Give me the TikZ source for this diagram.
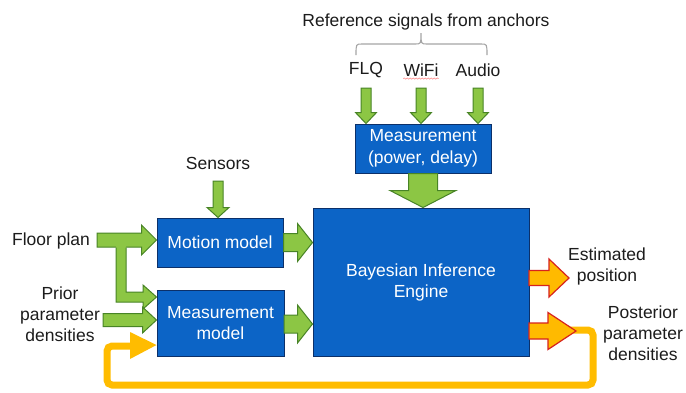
\documentclass[tikz,border=0pt]{standalone}
\usepackage{fontspec}
\setmainfont{Liberation Sans}
\usetikzlibrary{calc,decorations.pathmorphing}

\definecolor{boxblue}{RGB}{12,100,198}
\definecolor{boxedge}{RGB}{12,48,105}
\definecolor{arrgreen}{RGB}{140,198,68}
\definecolor{arredge}{RGB}{72,132,38}
\definecolor{outfill}{RGB}{255,186,0}
\definecolor{outedge}{RGB}{215,35,30}
\definecolor{loopyellow}{RGB}{255,188,0}
\definecolor{bracegray}{RGB}{165,165,165}
\definecolor{txt}{RGB}{28,28,28}

% Block arrow from #2 to #3: style #1, shaft half-width #4,
% head half-width #5, head length #6
\newcommand\blockarrow[6]{%
  \path (#2) coordinate (ba-s) (#3) coordinate (ba-e);
  \path ($(ba-e)!#6!(ba-s)$) coordinate (ba-h);
  \draw[#1] ($(ba-s)!#4!90:(ba-e)$)
    -- ($(ba-h)!#4!-90:(ba-s)$)
    -- ($(ba-h)!#5!-90:(ba-s)$)
    -- (ba-e)
    -- ($(ba-h)!#5!90:(ba-s)$)
    -- ($(ba-h)!#4!90:(ba-s)$)
    -- ($(ba-s)!#4!-90:(ba-e)$) -- cycle;
}

\tikzset{
  lbl/.style={text=txt, inner sep=0pt, align=center,
    font=\fontsize{17.5}{21}\selectfont},
  bluebox/.style={draw=boxedge, fill=boxblue, line width=1pt,
    text=white, align=center, inner sep=0pt,
    font=\fontsize{17.5}{21}\selectfont},
  garrow/.style={fill=arrgreen, draw=arredge, line width=1pt, line join=miter},
  oarrow/.style={fill=outfill, draw=outedge, line width=1.2pt, line join=miter},
  loopline/.style={draw=loopyellow, line width=7pt, rounded corners=5pt},
}

\begin{document}
\begin{tikzpicture}[x=1pt, y=-1pt]
\useasboundingbox (0,0) rectangle (686,392);
\fill[white] (0,0) rectangle (686,392);

% processing blocks
\node[bluebox, minimum width=126pt, minimum height=49pt] (motion) at (220,242.5) {Motion model};
\node[bluebox, minimum width=127pt, minimum height=66pt] (measm) at (220.5,323) {Measurement\\model};
\node[bluebox, minimum width=216pt, minimum height=148pt] (bayes) at (421,282) {Bayesian Inference\\Engine};
\node[bluebox, minimum width=136pt, minimum height=49pt, font=\fontsize{17.5}{22}\selectfont] (meas) at (423,148.5) {Measurement\\(power, delay)};

% labels
\node[lbl] (refsig) at (426,22) {Reference signals from anchors};
\node[lbl] (flq) at (366,70) {FLQ};
\node[lbl] (wifi) at (421,70) {WiFi};
\node[lbl] (audio) at (478,70) {Audio};
\node[lbl] (sensors) at (218,163) {Sensors};
\node[lbl] (floor) at (51,241) {Floor plan};
\node[lbl] (prior) at (60,314) {Prior\\parameter\\densities};
\node[lbl] (estim) at (607,266) {Estimated\\position};
\node[lbl] (post) at (643,333) {Posterior\\parameter\\densities};

% spell-check squiggle under WiFi
\draw[red!45, line width=0.6pt, decorate,
  decoration={snake, amplitude=0.6pt, segment length=3pt}]
  ($(wifi.south west)+(0,2)$) -- ($(wifi.south east)+(0,2)$);

% brace grouping the anchor signals
\coordinate (br-l) at (356,55);
\coordinate (br-r) at (487,55);
\coordinate (br-m) at (421,33);
\draw[bracegray, line width=1.1pt]
  (br-l) .. controls (356,44) .. (362,44) -- (415,44)
  .. controls (421,44) .. (br-m)
  .. controls (421,44) .. (427,44) -- (481,44)
  .. controls (487,44) .. (br-r);

% anchor signals into the measurement block
\coordinate (flq-in) at (366,88);
\coordinate (wifi-in) at (421,88);
\coordinate (audio-in) at (478,88);
\blockarrow{garrow}{flq-in}{meas.north -| flq-in}{5pt}{10.5pt}{11pt}
\blockarrow{garrow}{wifi-in}{meas.north -| wifi-in}{5pt}{10.5pt}{11pt}
\blockarrow{garrow}{audio-in}{meas.north -| audio-in}{5pt}{10.5pt}{11pt}

% measurement into the inference engine
\blockarrow{garrow}{meas.south}{bayes.north -| meas.south}{14.5pt}{33pt}{17pt}

% sensors into the motion model
\coordinate (sens-in) at (218,181);
\blockarrow{garrow}{sens-in}{motion.north -| sens-in}{5pt}{11pt}{10pt}

% models into the inference engine
\blockarrow{garrow}{motion.east}{bayes.west |- motion.east}{9pt}{19pt}{15pt}
\coordinate (mm-out) at (284,324);
\blockarrow{garrow}{mm-out}{bayes.west |- mm-out}{9pt}{19pt}{15pt}

% prior densities into the measurement model
\coordinate (prior-in) at (103,320);
\blockarrow{garrow}{prior-in}{measm.west |- prior-in}{6.5pt}{13pt}{14pt}

% floor plan into the motion model
\coordinate (floor-in) at (97,240);
\blockarrow{garrow}{floor-in}{motion.west |- floor-in}{7pt}{15pt}{15pt}

% floor plan branch down into the measurement model
\coordinate (fb-tip) at (measm.west |- 0,297);
\fill[arrgreen] (116,240) -- (116,302) -- (143,302) -- (143,309) -- (fb-tip)
  -- (143,285) -- (143,292) -- (126,292) -- (126,240) -- cycle;
\draw[arredge, line width=1pt, line join=miter]
  (116,247.5) -- (116,302) -- (143,302) -- (143,309) -- (fb-tip)
  -- (143,285) -- (143,292) -- (126,292) -- (126,247.5);

% posterior densities fed back to the measurement model
\coordinate (loop-end) at (130,346);
\draw[loopline] (570,330) -- (593,330) -- (593,385) -- (107,385) -- (107,346) -- (loop-end);
\fill[loopyellow] (130,332) -- (measm.west |- 0,345) -- (130,359) -- cycle;

% outputs of the inference engine
\coordinate (est-out) at (529,278);
\coordinate (est-tip) at (569,278);
\blockarrow{oarrow}{est-out}{est-tip}{7.5pt}{19pt}{20pt}
\coordinate (post-out) at (529,331);
\coordinate (post-tip) at (576,331);
\blockarrow{oarrow}{post-out}{post-tip}{8pt}{18.5pt}{28pt}

\end{tikzpicture}
\end{document}
